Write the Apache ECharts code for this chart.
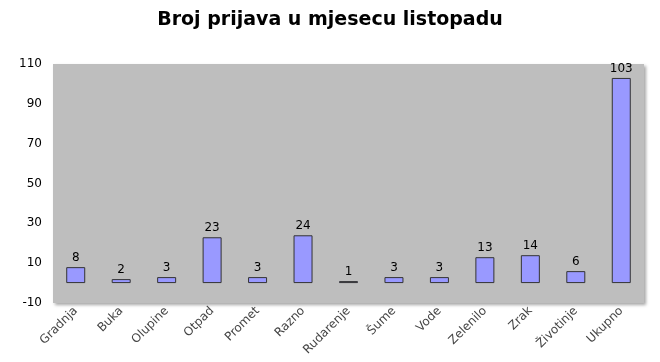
<!DOCTYPE html>
<html><head><meta charset="utf-8">
<script src="https://cdn.jsdelivr.net/npm/echarts@6/dist/echarts.min.js"></script>
<style>html,body{margin:0;padding:0;background:#fff}#c{width:660px;height:362px}</style>
</head><body><div id="c"></div>
<script>
var categories = ['Gradnja','Buka','Olupine','Otpad','Promet','Razno','Rudarenje','Šume','Vode','Zelenilo','Zrak','Životinje','Ukupno'];
var values = [8,2,3,23,3,24,1,3,3,13,14,6,103];
var yTicks = [-10,10,30,50,70,90,110];

var chart = echarts.init(document.getElementById('c'));
chart.setOption({
  animation:false,
  backgroundColor:'#fff',
  title:{text:'Broj prijava u mjesecu listopadu',left:'center',top:6,
    textStyle:{fontFamily:'DejaVu Sans',fontSize:19,fontWeight:'bold',color:'#000'}},
  grid:{left:53,right:16,top:64,bottom:59,show:true,backgroundColor:'#bebebe',borderWidth:0,
    shadowColor:'rgba(0,0,0,0.35)',shadowBlur:3,shadowOffsetX:2,shadowOffsetY:2},
  xAxis:{type:'category',data:categories,
    axisLine:{show:false},axisTick:{show:false},
    axisLabel:{rotate:45,interval:0,fontFamily:'DejaVu Sans',fontSize:12,color:'#444',margin:6}},
  yAxis:{type:'value',min:yTicks[0],max:yTicks[yTicks.length-1],interval:20,
    axisLine:{show:false},axisTick:{show:false},splitLine:{show:false},
    axisLabel:{fontFamily:'DejaVu Sans',fontSize:12,color:'#000',margin:11}},
  series:[{type:'bar',data:values,barWidth:19,
    itemStyle:{color:'#9999ff',borderColor:'#333',borderWidth:1},
    label:{show:true,position:'top',distance:3,fontFamily:'DejaVu Sans',fontSize:12,color:'#000'}}]
});
</script></body></html>
